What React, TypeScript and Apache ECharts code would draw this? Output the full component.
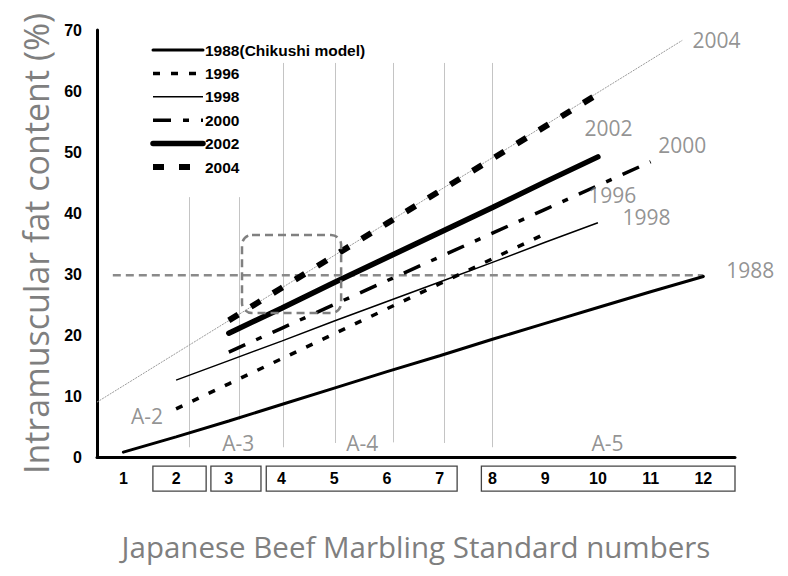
import React, { useEffect, useRef } from "react";
import * as echarts from "echarts";

// Marbling standard numbers (BMS)
const bmsTicks = [1, 2, 3, 4, 5, 6, 7, 8, 9, 10, 11, 12];

// Intramuscular fat content (%) per BMS number
const x1988 = [1, 2, 3, 4, 5, 6, 7, 8, 9, 10, 11, 12];
const y1988 = [0.8, 3.3, 5.9, 8.6, 11.3, 14.0, 16.6, 19.3, 21.9, 24.5, 27.1, 29.6];
const x1996 = [2, 3, 4, 5, 6, 7, 8, 9];
const y1996 = [7.9, 12.0, 16.1, 20.2, 24.3, 28.4, 32.5, 36.6];
const x1998 = [2, 3, 4, 5, 6, 7, 8, 9, 10];
const y1998 = [12.6, 15.8, 19.0, 22.3, 25.5, 28.7, 31.9, 35.2, 38.4];
const x2000 = [3, 4, 5, 6, 7, 8, 9, 10, 11];
const y2000 = [17.2, 21.1, 25.0, 28.9, 32.8, 36.7, 40.6, 44.5, 48.4];
const x2002 = [3, 4, 5, 6, 7, 8, 9, 10];
const y2002 = [20.3, 24.4, 28.6, 32.7, 36.8, 40.9, 45.1, 49.2];
const x2004 = [3, 4, 5, 6, 7, 8, 9, 10];
const y2004 = [22.4, 27.7, 33.0, 38.3, 43.6, 48.9, 54.2, 59.5];
// thin extension of the 2004 trend
const x2004ext = [0.5, 11.6];
const y2004ext = [9.0, 68.3];
// 30% reference line
const xRef = [0.8, 12];
const yRef = [29.8, 29.8];

// vertical grade boundary lines (x, top, bottom)
const gradeLineX = [2.25, 3.2, 4.03, 5.02, 6.12, 7.08, 8.0];
const gradeLineTop = [42.6, 42.6, 64.6, 64.6, 64.6, 64.6, 64.6];
const gradeLineBottom = [1.6, 6.1, 1.6, 2.3, 2.4, 2.3, 1.6];

// annotation texts (x, y in data units)
const annoText = ["2004", "2002", "2000", "1996", "1998", "1988", "A-2", "A-3", "A-4", "A-5"];
const annoX = [12.25, 10.2, 11.6, 10.27, 10.92, 12.89, 1.45, 3.18, 5.53, 10.18];
const annoY = [68.4, 53.9, 51.1, 42.9, 39.4, 30.7, 6.7, 2.3, 2.3, 2.3];

// boxes around the tick label groups (x from, x to)
const boxFrom = [1.56, 2.66, 3.71, 7.79];
const boxTo = [2.57, 3.61, 7.33, 12.6];

const zip = (xs: number[], ys: number[]) => xs.map((x, i) => [x, ys[i]]);

export default function App() {
  const ref = useRef<HTMLDivElement>(null);
  useEffect(() => {
    document.body.style.margin = "0";
    const chart = echarts.init(ref.current!, null, { renderer: "svg" });
    const lineBase = { type: "line", symbol: "none", silent: true, z: 5 };
    const option: any = {
      animation: false,
      backgroundColor: "#ffffff",
      grid: { left: 97, right: 53, top: 30, bottom: 119 },
      legend: {
        orient: "vertical",
        left: 150,
        top: 42,
        padding: 0,
        itemWidth: 50,
        itemHeight: 14,
        itemGap: 7.4,
        data: ["1988(Chikushi model)", "1996", "1998", "2000", "2002", "2004"],
        lineStyle: { width: "inherit", type: "inherit" },
        itemStyle: { opacity: 0, color: "transparent", borderWidth: 0 },
        textStyle: { fontFamily: "Liberation Sans", fontWeight: "bold", fontSize: 15.5, color: "#000", padding: [0, 0, 0, -3] },
        selectedMode: false,
      },
      xAxis: {
        type: "value",
        min: 0.5,
        max: 12.6,
        axisLine: { lineStyle: { color: "#000", width: 3 } },
        axisTick: { show: false },
        splitLine: { show: false },
        axisLabel: {
          customValues: bmsTicks,
          margin: 13,
          fontFamily: "Liberation Sans",
          fontWeight: "bold",
          fontSize: 16,
          color: "#000",
        },
        name: "Japanese Beef Marbling Standard numbers",
        nameLocation: "middle",
        nameGap: 74,
        nameTextStyle: { fontFamily: "Open Sans", fontSize: 29.5, color: "#7f7f7f" },
      },
      yAxis: {
        type: "value",
        min: 0,
        max: 70,
        interval: 10,
        axisLine: { show: true, lineStyle: { color: "#000", width: 3 } },
        axisTick: { show: false },
        splitLine: { show: false },
        axisLabel: {
          margin: 15,
          fontFamily: "Liberation Sans",
          fontWeight: "bold",
          fontSize: 16,
          color: "#000",
        },
        name: "Intramuscular fat content (%)",
        nameLocation: "middle",
        nameGap: 43,
        nameRotate: 90,
        nameTextStyle: { fontFamily: "Open Sans", fontSize: 34, color: "#7f7f7f" },
      },
      series: [
        {
          type: "lines",
          coordinateSystem: "cartesian2d",
          silent: true,
          z: 1,
          lineStyle: { color: "#c4c4c4", width: 1, opacity: 1 },
          data: gradeLineX.map((x, i) => ({ coords: [[x, gradeLineTop[i]], [x, gradeLineBottom[i]]] })),
        },
        {
          ...lineBase,
          name: "ref30",
          z: 2,
          data: zip(xRef, yRef),
          lineStyle: { color: "#8a8a8a", width: 2.5, type: [8, 5] },
        },
        {
          ...lineBase,
          name: "ext2004",
          z: 2,
          data: zip(x2004ext, y2004ext),
          lineStyle: { color: "#9a9a9a", width: 1, type: [2, 1] },
        },
        {
          ...lineBase,
          name: "1988(Chikushi model)",
          data: zip(x1988, y1988),
          color: "#000",
          lineStyle: { color: "#000", width: 3, cap: "round" },
        },
        {
          ...lineBase,
          name: "1996",
          data: zip(x1996, y1996),
          color: "#000",
          lineStyle: { color: "#000", width: 3.5, type: [7, 11] },
        },
        {
          ...lineBase,
          name: "1998",
          data: zip(x1998, y1998),
          color: "#000",
          lineStyle: { color: "#000", width: 1.5 },
        },
        {
          ...lineBase,
          name: "2000",
          data: zip(x2000, y2000),
          color: "#000",
          lineStyle: { color: "#000", width: 3.5, type: [18, 12, 6, 12] },
        },
        {
          ...lineBase,
          name: "2002",
          data: zip(x2002, y2002),
          color: "#000",
          lineStyle: { color: "#000", width: 5.5, cap: "round" },
        },
        {
          ...lineBase,
          name: "2004",
          data: zip(x2004, y2004),
          color: "#000",
          lineStyle: { color: "#000", width: 6, type: [11, 15] },
        },
        {
          type: "scatter",
          name: "annotations",
          silent: true,
          clip: false,
          symbolSize: 0,
          z: 6,
          data: annoText.map((t, i) => ({ name: t, value: [annoX[i], annoY[i]] })),
          label: {
            show: true,
            position: "inside",
            formatter: (p: any) => p.name,
            fontFamily: "Open Sans",
            fontSize: 21,
            lineHeight: 17,
            color: "#777777",
          },
        },
      ],
    };
    chart.setOption(option);

    const px = (x: number, y: number) => chart.convertToPixel({ gridIndex: 0 }, [x, y]) as number[];
    const graphics: any[] = [];
    boxFrom.forEach((x0, i) => {
      const a = px(x0, -1.5);
      const b = px(boxTo[i], -5.6);
      graphics.push({
        type: "rect",
        silent: true,
        shape: { x: a[0], y: a[1], width: b[0] - a[0], height: b[1] - a[1] },
        style: { fill: "none", stroke: "#444", lineWidth: 1.3 },
      });
    });
    const r0 = px(3.25, 36.4);
    const r1 = px(5.13, 23.6);
    graphics.push({
      type: "rect",
      silent: true,
      z: 10,
      shape: { x: r0[0], y: r0[1], width: r1[0] - r0[0], height: r1[1] - r0[1], r: 10 },
      style: { fill: "none", stroke: "#808080", lineWidth: 2.5, lineDash: [8, 5] },
    });
    chart.setOption({ graphic: graphics });

    return () => chart.dispose();
  }, []);
  return <div ref={ref} style={{ width: 788, height: 576 }} />;
}
